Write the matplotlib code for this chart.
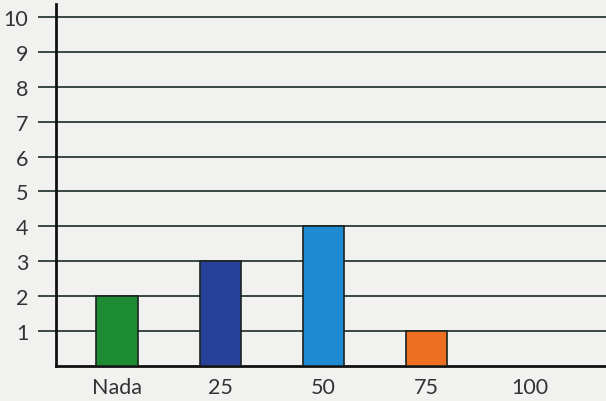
import matplotlib
matplotlib.use("Agg")
from matplotlib import pyplot as plt
import numpy as np

categories = ['Nada', '25', '50', '75', '100']
values = [2, 3, 4, 1, 0]
bar_colors = ['#1e8c32', '#27409a', '#1d8ad2', '#ee6f22', '#ffffff']
y_ticks = list(range(1, 11))

plt.rcParams['font.family'] = ['Lato', 'DejaVu Sans']

fig = plt.figure(figsize=(6.06, 4.02), dpi=100)
fig.patch.set_facecolor('#f1f1ef')
ax = fig.add_axes([56 / 606, 35 / 402, 1 - 56 / 606, 1 - 40 / 402])
ax.set_facecolor('#f1f1ef')

x = np.arange(len(categories))
for i in range(len(categories)):
    if values[i] > 0:
        ax.bar(x[i], values[i], width=0.4, color=bar_colors[i],
               edgecolor='#1c2420', linewidth=1.2, zorder=3)

ax.set_xlim(-0.591, 4.738)
ax.set_ylim(0, 10.37)

ax.set_yticks(y_ticks)
ax.set_yticklabels([str(v) for v in y_ticks])
ax.yaxis.grid(True, color='#3a4843', linewidth=1.4)
ax.set_axisbelow(True)
ax.tick_params(axis='y', length=13, width=1.4, color='#3a4843', pad=7,
               labelsize=15.5, labelcolor='#333333')

ax.set_xticks(x)
ax.set_xticklabels(categories)
ax.tick_params(axis='x', length=0, pad=8, labelsize=15.5, labelcolor='#333333')

for side in ['top', 'right']:
    ax.spines[side].set_visible(False)
ax.spines['left'].set_linewidth(2)
ax.spines['bottom'].set_linewidth(2)
ax.spines['left'].set_color('#111111')
ax.spines['bottom'].set_color('#111111')

plt.savefig('out.png', dpi=100, facecolor=fig.get_facecolor())
